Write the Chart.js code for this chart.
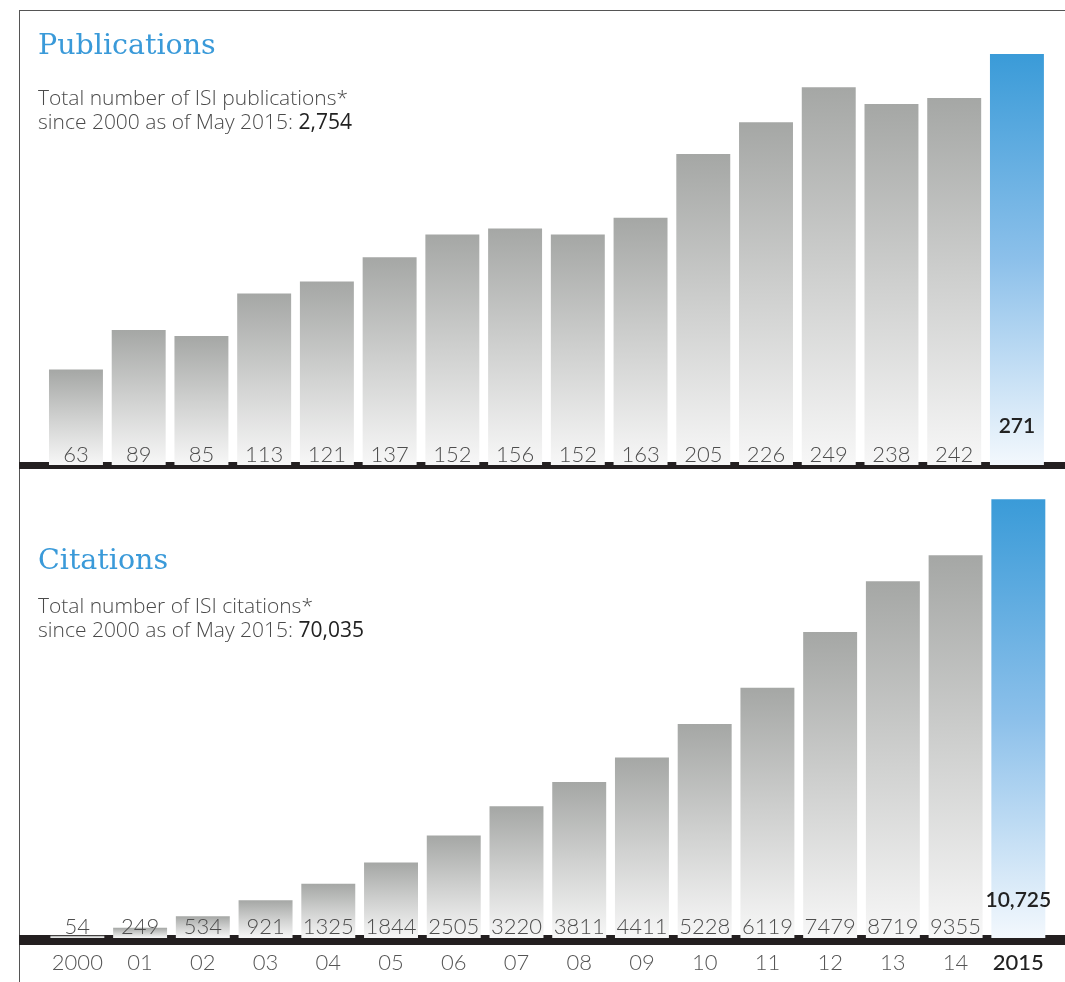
<!DOCTYPE html>
<html>
<head>
<meta charset="utf-8">
<script src="https://cdn.jsdelivr.net/npm/chart.js@4.4.0/dist/chart.umd.min.js"></script>
<style>
  html,body{margin:0;padding:0;background:#fff;}
  body{width:1065px;height:982px;position:relative;overflow:hidden;font-family:Lato,"Open Sans",sans-serif;}
  .frameTop{position:absolute;left:19px;top:10px;width:1046px;height:0;border-top:1.5px solid #555;}
  .frameLeft{position:absolute;left:19px;top:10px;width:0;height:972px;border-left:1.5px solid #555;}
  .title{position:absolute;left:38px;color:#3a9ad9;font-family:"DejaVu Serif",serif;font-size:28.5px;line-height:32px;white-space:nowrap;}
  .sub{position:absolute;left:38px;color:#4a4a4a;font-family:"Open Sans",Lato,sans-serif;font-size:21px;line-height:23.5px;font-weight:300;white-space:nowrap;}
  .sub b{color:#222;font-weight:400;}
  canvas{position:absolute;left:0;}
</style>
</head>
<body>
<div class="frameTop"></div>
<div class="frameLeft"></div>
<div style="position:absolute;left:0;top:0;width:1065px;height:480px;"><canvas id="pub"></canvas></div>
<div style="position:absolute;left:0;top:480px;width:1065px;height:515px;"><canvas id="cit"></canvas></div>
<div class="title" style="top:29px;">Publications</div>
<div class="sub" style="top:86px;">Total number of ISI publications*<br>since 2000 as of May 2015: <b>2,754</b></div>
<div class="title" style="top:544px;">Citations</div>
<div class="sub" style="top:594px;">Total number of ISI citations*<br>since 2000 as of May 2015: <b>70,035</b></div>
<script>
const categories = ['2000','01','02','03','04','05','06','07','08','09','10','11','12','13','14','2015'];
const publications = [63,89,85,113,121,137,152,156,152,163,205,226,249,238,242,271];
const citations = [54,249,534,921,1325,1844,2505,3220,3811,4411,5228,6119,7479,8719,9355,10725];

function barFill(c){
  const chart = c.chart;
  const last = c.dataIndex === categories.length - 1;
  const topCol = last ? '#3a9bd8' : '#a5a7a5';
  const botCol = last ? '#f3f8fd' : '#f7f7f7';
  if (!chart.chartArea || c.type !== 'data') return topCol;
  const ys = chart.scales.y;
  const yt = ys.getPixelForValue(c.raw), yb = ys.getPixelForValue(0);
  const g = chart.ctx.createLinearGradient(0, yt, 0, yb);
  g.addColorStop(0, topCol);
  g.addColorStop(0.5, last ? '#8cc0ea' : '#cfd0cf');
  g.addColorStop(1, botCol);
  return g;
}

const bandPlugin = {
  id: 'band',
  beforeDatasetsDraw(chart, args, o){
    const ctx = chart.ctx, y0 = chart.scales.y.getPixelForValue(0);
    ctx.save();
    ctx.fillStyle = '#231f20';
    ctx.fillRect(19, y0 - o.up, 1065 - 19, o.up + o.down);
    ctx.restore();
  },
  afterDatasetsDraw(chart, args, o){
    const ctx = chart.ctx, y0 = chart.scales.y.getPixelForValue(0);
    const meta = chart.getDatasetMeta(0);
    const vals = chart.data.datasets[0].data;
    ctx.save();
    ctx.textAlign = 'center';
    ctx.textBaseline = 'alphabetic';
    meta.data.forEach((el, i) => {
      const last = i === vals.length - 1;
      if (last) {
        ctx.font = '600 21px Lato, "Open Sans", sans-serif';
        ctx.fillStyle = '#222';
        ctx.fillText(o.fmtLast(vals[i]), el.x, y0 - o.lastOff);
      } else {
        ctx.font = '300 22px Lato, "Open Sans", sans-serif';
        ctx.fillStyle = '#4d4d4d';
        ctx.fillText(String(vals[i]), el.x, y0 - o.off);
      }
    });
    ctx.restore();
  }
};

function makeChart(id, data, ymax, pad, band, showX){
  return new Chart(document.getElementById(id), {
    type: 'bar',
    data: { labels: categories, datasets: [{ data: data, backgroundColor: barFill, borderWidth: 0,
      categoryPercentage: 1, barPercentage: 0.86 }] },
    options: {
      responsive: true, maintainAspectRatio: false, animation: false,
      layout: { padding: pad },
      plugins: { legend: { display: false }, tooltip: { enabled: false }, band: band },
      scales: {
        y: { display: false, min: 0, max: ymax },
        x: { display: showX, grid: { display: false, drawTicks: false }, border: { display: false },
             ticks: { padding: 12, autoSkip: false, maxRotation: 0,
               color: (c) => c.index === categories.length - 1 ? '#222' : '#555',
               font: (c) => ({ family: 'Lato, "Open Sans", sans-serif', size: 22,
                               weight: c.index === categories.length - 1 ? '500' : '300' }) } }
      }
    },
    plugins: [bandPlugin]
  });
}

makeChart('pub', publications, 306.6, {left: 44.6, right: 16.7, top: 0, bottom: 15},
  {up: 3, down: 4, off: 3, lastOff: 32, fmtLast: v => String(v)}, false);
makeChart('cit', citations, 11195, {left: 46, right: 15.3, top: 0, bottom: 6.6},
  {up: 3, down: 7, off: 4, lastOff: 31.5, fmtLast: v => v.toLocaleString('en-US')}, true);
</script>
</body>
</html>
